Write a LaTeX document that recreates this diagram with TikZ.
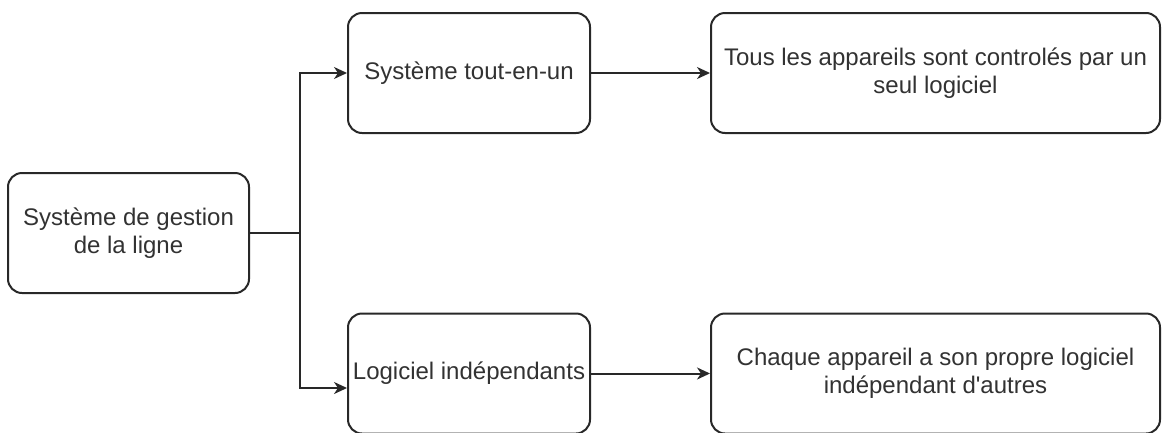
\documentclass[tikz,border=0pt]{standalone}
\usepackage{fontspec}
\setmainfont{Liberation Sans}[Ligatures=TeXOff]
\usetikzlibrary{arrows.meta}
\definecolor{inkc}{RGB}{40,40,40}
\definecolor{txtc}{RGB}{50,50,50}
\begin{document}
\begin{tikzpicture}[x=1pt,y=-1pt,
  box/.style={draw=inkc, line width=2pt, rounded corners=14pt, fill=white,
    inner sep=0pt, align=center, text=txtc,
    font=\fontsize{24}{27.5}\selectfont},
  smallbox/.style={box, minimum width=242pt, minimum height=120pt},
  widebox/.style={box, minimum width=449pt, minimum height=120pt},
  link/.style={draw=inkc, line width=2pt,
    -{Stealth[length=13pt,width=12pt,inset=4pt]}}]
\useasboundingbox (0,0) rectangle (1162,432);
\clip (0,0) rectangle (1162,432);

% source
\node[smallbox, minimum width=241pt] (L) at (128.5,233) {Système de gestion\\de la ligne};

% first branch
\node[smallbox] (TM) at (469,73) {Système tout-en-un};
\node[widebox] (TR) at (935.5,73) {Tous les appareils sont controlés par un\\seul logiciel};

% second branch
\node[smallbox] (BM) at (469,373.5) {Logiciel indépendants};
\node[widebox] (BR) at (935.5,373.5) {Chaque appareil a son propre logiciel\\indépendant d'autres};

% fork points
\coordinate (jt) at (300,73);
\coordinate (jb) at (300,388);

\draw[link] (L.east) -| (jt) -- (TM.west);
\draw[link] (L.east) -| (jb) -- (BM.west |- jb);
\draw[link] (TM.east) -- (TR.west);
\draw[link] (BM.east) -- (BR.west);
\end{tikzpicture}
\end{document}
